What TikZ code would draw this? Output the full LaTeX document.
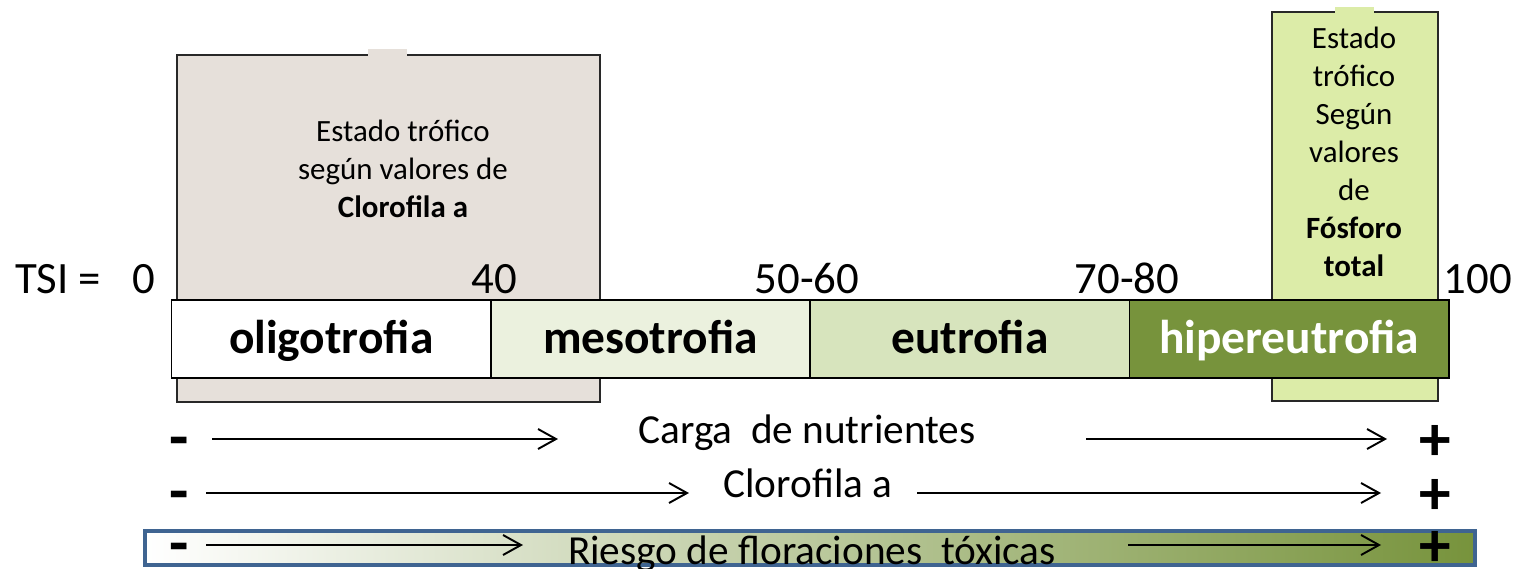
\documentclass[tikz,border=0pt]{standalone}
\usepackage{fontspec}
\setmainfont{Carlito}
\usetikzlibrary{positioning,arrows.meta}
\definecolor{cajaclorofila}{RGB}{230,224,218}
\definecolor{cajafosforo}{RGB}{220,236,168}
\definecolor{mesoverde}{RGB}{235,241,222}
\definecolor{euverde}{RGB}{215,228,189}
\definecolor{hiperverde}{RGB}{119,147,60}
\definecolor{azulborde}{RGB}{63,100,145}
\definecolor{bordegris}{RGB}{40,40,40}

\begin{document}
\begin{tikzpicture}[x=0.02cm,y=-0.02cm]
			\tikzstyle{tramo_node}=[draw,rectangle,line width=1.1pt,minimum width=6.388cm,minimum height=1.56cm,inner sep=0pt,outer sep=0pt,text height=20pt,text depth=4pt,font=\fontsize{27}{32}\selectfont\bfseries]
			\tikzstyle{caja_node}=[draw=bordegris,rectangle,line width=1pt,inner sep=0pt,anchor=north west]
			\tikzstyle{caja_texto}=[anchor=north,inner sep=0pt,align=center,font=\fontsize{17.6}{21.6}\selectfont]
			\tikzstyle{escala_label}=[anchor=base,inner sep=0pt,font=\fontsize{25.5}{30}\selectfont]
			\tikzstyle{fila_label}=[anchor=base,inner sep=0pt,font=\fontsize{23.5}{28}\selectfont]
			\tikzstyle{signo}=[anchor=base,inner sep=0pt,text height=14pt,text depth=0pt,font=\fontsize{36}{40}\selectfont\bfseries]
			\tikzstyle{flecha}=[-{Straight Barb[length=0.36cm,width=0.4cm]},line width=1.1pt]
			\useasboundingbox (0,0) rectangle (1520,568);
			\node [caja_node, fill=cajaclorofila, minimum width=8.46cm, minimum height=6.94cm] (caja_clorofila) at (176,54) {};
			\node [caja_node, fill=cajafosforo, minimum width=3.32cm, minimum height=7.78cm] (caja_fosforo) at (1271,11) {};
			\fill [cajaclorofila] (368,49) rectangle (407,56);
			\fill [cajafosforo] (1335,7) rectangle (1374,13);
			\node [caja_texto] (txt_clorofila) at (403,120) {Estado trófico\\según valores de\\\textbf{Clorofila a}};
			\node [caja_texto] (txt_fosforo) at (1354,27) {Estado\\trófico\\ Según\\valores\\de\\\textbf{Fósforo}\\\textbf{total}};
			\node [tramo_node, fill=white, anchor=north west] (oligo) at (171.5,300) {oligotrofia};
			\node [tramo_node, fill=mesoverde, right=0pt of oligo] (meso) {mesotrofia};
			\node [tramo_node, fill=euverde, right=0pt of meso] (eu) {eutrofia};
			\node [tramo_node, fill=hiperverde, text=white, right=0pt of eu] (hiper) {hipereutrofia};
			\node [escala_label, anchor=base west] (tsi) at (15,293) {TSI =};
			\node [escala_label] (v0) at (144,293) {0};
			\node [escala_label] (v40) at (494,293) {40};
			\node [escala_label] (v5060) at (807,293) {50-60};
			\node [escala_label] (v7080) at (1127,293) {70-80};
			\node [escala_label] (v100) at (1478,293) {100};
			\node [draw=azulborde, line width=2.3pt, left color=white, middle color={rgb,255:red,205;green,209;blue,196}, right color=hiperverde, minimum width=26.6cm, minimum height=0.68cm, inner sep=0pt] (riesgo_box) at (810,548) {};
			\node [fila_label] (carga) at (807,443) {Carga\ \ de nutrientes};
			\node [fila_label] (clorofila) at (808,497) {Clorofila a};
			\node [fila_label] (riesgo) at (812,564) {Riesgo de floraciones\ \ tóxicas};
			\node [signo] (menos1) at (179,458) {-};
			\node [signo] (menos2) at (179,512) {-};
			\node [signo] (menos3) at (179,564) {-};
			\node [signo] (mas1) at (1435,460) {+};
			\node [signo] (mas2) at (1435,514) {+};
			\node [signo] (mas3) at (1435,566) {+};
			\coordinate (f1a) at (212,439);
			\coordinate (f1b) at (558,439);
			\coordinate (f1c) at (1086,439);
			\coordinate (f1d) at (1387,439);
			\coordinate (f2a) at (206,493);
			\coordinate (f2b) at (689,493);
			\coordinate (f2c) at (917,493);
			\coordinate (f2d) at (1381,493);
			\coordinate (f3a) at (206,545);
			\coordinate (f3b) at (523,545);
			\coordinate (f3c) at (1128,545);
			\coordinate (f3d) at (1381,545);
			\draw [flecha] (f1a) -- (f1b);
			\draw [flecha] (f1c) -- (f1d);
			\draw [flecha] (f2a) -- (f2b);
			\draw [flecha] (f2c) -- (f2d);
			\draw [flecha] (f3a) -- (f3b);
			\draw [flecha] (f3c) -- (f3d);
		\end{tikzpicture}
\end{document}
